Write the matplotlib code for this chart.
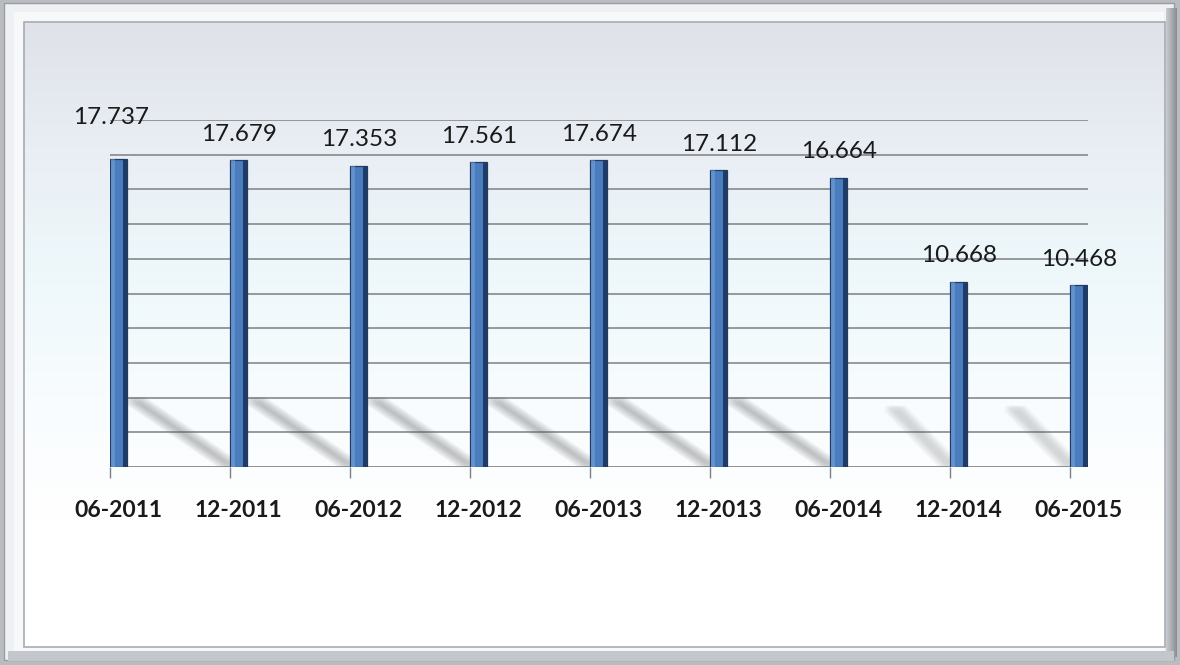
import numpy as np
import matplotlib.pyplot as plt
from matplotlib.patches import Rectangle
from matplotlib.colors import LinearSegmentedColormap

# Veriler
periods = ["06-2011", "12-2011", "06-2012", "12-2012", "06-2013",
           "12-2013", "06-2014", "12-2014", "06-2015"]
values = [17.737, 17.679, 17.353, 17.561, 17.674, 17.112, 16.664, 10.668, 10.468]
value_labels = ["17.737", "17.679", "17.353", "17.561", "17.674",
                "17.112", "16.664", "10.668", "10.468"]

W, H = 1180, 665
BAR_FACE = "#4a7dbd"
BAR_SIDE = "#1f3b66"
BAR_LIGHT = "#7fa6d8"
GRID = "#7d7f82"
FONT = "Lato"

fig = plt.figure(figsize=(W / 100, H / 100), dpi=100)
fig.patch.set_facecolor("#b9bcc1")

# arka plan: çerçeve + gradyan panel
bg = fig.add_axes([0, 0, 1, 1], zorder=-5)
bg.set_xlim(0, W)
bg.set_ylim(H, 0)
bg.axis("off")
bg.add_patch(Rectangle((4, 3), W - 10, H - 8, facecolor="#eef0f3", edgecolor="#9a9da2", lw=1))
bg.add_patch(Rectangle((14, 12), W - 30, H - 26, facecolor="#f7f8fa", edgecolor="none"))
cmap = LinearSegmentedColormap.from_list("panel", ["#dfe2e9", "#e9eef4", "#eef8fb", "#f8fcfe", "#ffffff", "#ffffff"])
grad = np.linspace(0, 1, 256).reshape(-1, 1)
bg.imshow(grad, cmap=cmap, aspect="auto", extent=(24, 1165, 647, 22), zorder=1)
bg.add_patch(Rectangle((24, 22), 1141, 625, facecolor="none", edgecolor="#a8abb0", lw=1.2, zorder=2))
edge = LinearSegmentedColormap.from_list("edge", ["#c9ccd1", "#8a8e94"])
bg.imshow(np.linspace(0, 1, 64).reshape(1, -1), cmap=edge, aspect="auto",
          extent=(1166, 1177, H - 8, 8), zorder=2)
bg.add_patch(Rectangle((8, H - 14), W - 14, 10, facecolor="#c3c6cb", edgecolor="none", zorder=2))

ax = fig.add_axes([110 / W, 1 - 467 / H, (1088 - 110) / W, (467 - 120) / H])
ax.patch.set_alpha(0)
x = np.arange(len(values))
bw = 0.145
ax.set_xlim(0, (1088 - 110) / 120)
ax.set_ylim(0, 20)

# yatay kılavuz çizgileri
for gy in np.arange(2, 21, 2):
    ax.axhline(gy, color=GRID, lw=1.1, zorder=1)

# gölgeler
for i, v in enumerate(values):
    top = 3.8 if v > 15 else 3.3
    length = 0.78 if v > 15 else 0.45
    alpha = 0.045 if v > 15 else 0.03
    for k in range(12):
        off = (k - 5.5) * 0.012
        ax.plot([x[i] + off, x[i] - length + off], [0.1, top], color="#62656a",
                lw=6, alpha=alpha, solid_capstyle="round", zorder=1.5)

# çubuklar (ön yüz + yan yüz)
ax.bar(x, values, width=bw, align="edge", color=BAR_FACE, edgecolor=BAR_SIDE, lw=0.9, zorder=3)
ax.bar(x + bw * 0.72, values, width=bw * 0.28, align="edge", color=BAR_SIDE, lw=0, zorder=4)
ax.bar(x + bw * 0.08, values, width=bw * 0.2, align="edge", color=BAR_LIGHT, lw=0, alpha=0.5, zorder=4)

# değer etiketleri
for i, (v, lab) in enumerate(zip(values, value_labels)):
    dy = 2.4 if i == 0 else 1.5
    ax.text(x[i] + bw / 2 - (0.06 if i == 0 else 0), v + dy, lab, ha="center", va="center",
            fontsize=17.5, family=FONT, color="#1a1a1a", zorder=5)

ax.axhline(0, color=GRID, lw=1.2, zorder=2)
ax.set_xticks(x, minor=True)
ax.set_xticks(x + bw / 2)
ax.set_xticklabels(periods, fontsize=16.5, fontweight="bold", family=FONT, color="#1a1a1a")
ax.tick_params(axis="x", which="major", length=0, pad=24)
ax.tick_params(axis="x", which="minor", length=8, color=GRID, width=1)
ax.set_yticks([])
for s in ax.spines.values():
    s.set_visible(False)

fig.savefig("out.png", dpi=100, facecolor=fig.get_facecolor())
